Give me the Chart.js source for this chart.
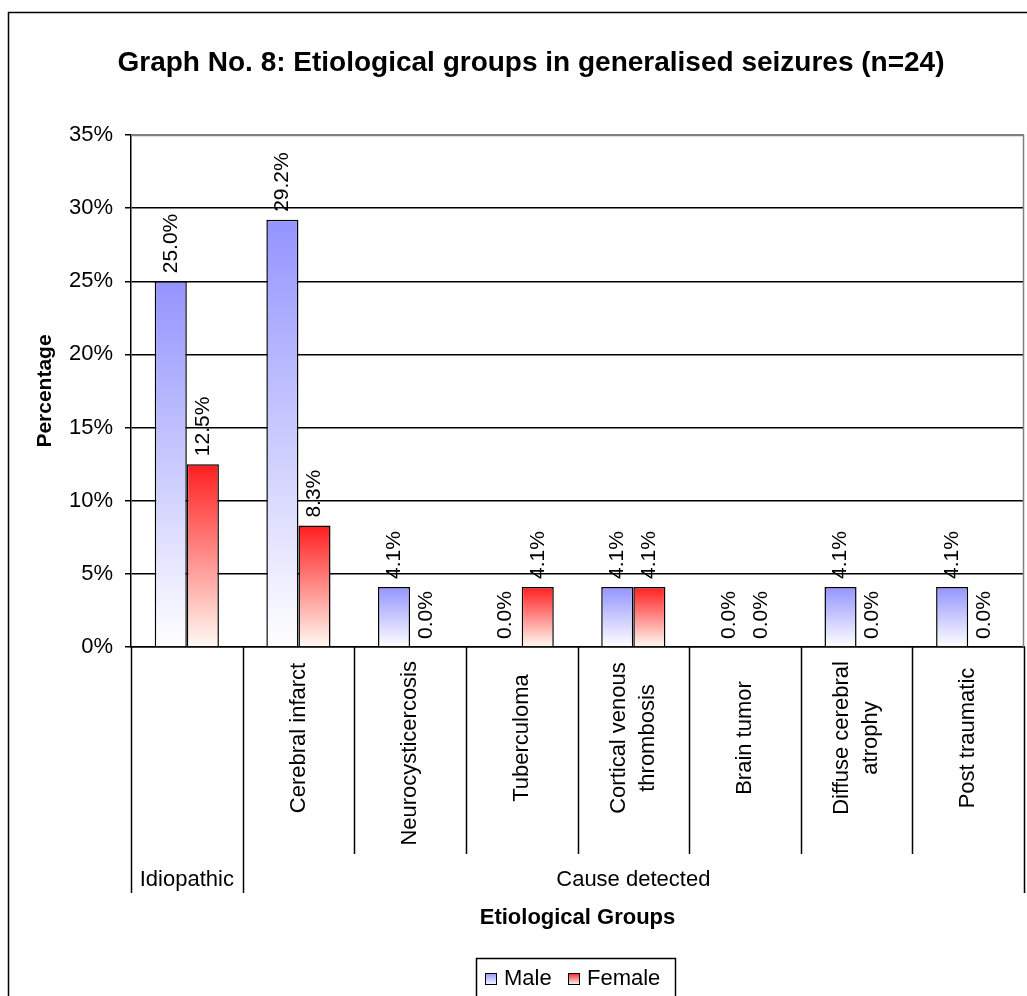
<!DOCTYPE html>
<html>
<head>
<meta charset="utf-8">
<script src="https://cdn.jsdelivr.net/npm/chart.js@4.4.0/dist/chart.umd.min.js"></script>
<style>
  html, body { margin: 0; padding: 0; background: #fff; }
  canvas { display: block; }
</style>
</head>
<body>
<canvas id="chart" width="1027" height="996"></canvas>
<script>
// Etiological groups: each category's label lines (first is the idiopathic group, which has no sub-label)
const categoryLabels = [
  [],
  ['Cerebral infarct'],
  ['Neurocysticercosis'],
  ['Tuberculoma'],
  ['Cortical venous', 'thrombosis'],
  ['Brain tumor'],
  ['Diffuse cerebral', 'atrophy'],
  ['Post traumatic']
];
// Upper-level groups and how many categories each one spans
const groupNames = ['Idiopathic', 'Cause detected'];
const groupSpans = [1, 7];

// Percentages by sex
const maleValues = [25.0, 29.2, 4.1, 0.0, 4.1, 0.0, 4.1, 4.1];
const femaleValues = [12.5, 8.3, 0.0, 4.1, 4.1, 0.0, 0.0, 0.0];

const seriesNames = ['Male', 'Female'];
const yMax = 35;
const yStep = 5;

const FONT = "'Liberation Sans', Arial, sans-serif";

const MALE_TOP = '#9494ff', MALE_BOTTOM = '#ffffff';
const FEMALE_TOP = '#ff1e1e', FEMALE_BOTTOM = '#fffaf3';

function barGradient(context, top, bottom) {
  const chart = context.chart;
  const { ctx, chartArea, scales } = chart;
  if (!chartArea || context.type !== 'data' || !scales.y) return top;
  const v = context.raw;
  const y = scales.y.getPixelForValue(v);
  const y0 = scales.y.getPixelForValue(0);
  if (Math.abs(y0 - y) < 1) return top;
  const g = ctx.createLinearGradient(0, y, 0, y0);
  g.addColorStop(0, top);
  g.addColorStop(1, bottom);
  return g;
}

// Page background, outer frame, titles, category axis labels and legend
const decorations = {
  id: 'decorations',
  beforeDraw(chart) {
    const ctx = chart.ctx;
    ctx.save();
    ctx.fillStyle = '#fff';
    ctx.fillRect(0, 0, chart.width, chart.height);
    ctx.restore();
  },
  afterDraw(chart) {
    const ctx = chart.ctx;
    const area = chart.chartArea;
    const xs = chart.scales.x;
    const n = categoryLabels.length;
    const w = (area.right - area.left) / n;

    ctx.save();
    // outer frame
    ctx.strokeStyle = '#000';
    ctx.lineWidth = 1.5;
    ctx.beginPath();
    ctx.moveTo(8.5, chart.height + 5);
    ctx.lineTo(8.5, 12.5);
    ctx.lineTo(chart.width + 5, 12.5);
    ctx.stroke();

    // plot area border (top and right)
    ctx.strokeStyle = '#808080';
    ctx.lineWidth = 1.5;
    ctx.beginPath();
    ctx.moveTo(area.left, area.top + 0.5);
    ctx.lineTo(area.right - 0.5, area.top + 0.5);
    ctx.lineTo(area.right - 0.5, area.bottom);
    ctx.stroke();

    // title
    ctx.fillStyle = '#000';
    ctx.font = 'bold 28px ' + FONT;
    ctx.textAlign = 'center';
    ctx.textBaseline = 'middle';
    ctx.fillText('Graph No. 8: Etiological groups in generalised seizures (n=24)', 531, 63);

    // y axis title
    ctx.save();
    ctx.translate(45, (area.top + area.bottom) / 2);
    ctx.rotate(-Math.PI / 2);
    ctx.font = 'bold 21px ' + FONT;
    ctx.fillText('Percentage', 0, 0);
    ctx.restore();

    // category dividers: group edges run down through the group row
    const groupEdges = [0];
    groupSpans.reduce((acc, s) => { groupEdges.push(acc + s); return acc + s; }, 0);
    ctx.strokeStyle = '#000';
    ctx.lineWidth = 1.5;
    for (let k = 0; k <= n; k++) {
      const x = Math.round(area.left + k * w) + 0.5;
      const long = groupEdges.includes(k);
      ctx.beginPath();
      ctx.moveTo(x, area.bottom);
      ctx.lineTo(x, long ? 893 : 854);
      ctx.stroke();
    }

    // rotated category labels, centred in their band but kept clear of the axis
    ctx.font = '22px ' + FONT;
    ctx.textAlign = 'center';
    ctx.textBaseline = 'middle';
    categoryLabels.forEach((lines, i) => {
      const cx = xs.getPixelForValue(i);
      const longest = Math.max(0, ...lines.map(l => ctx.measureText(l).width));
      const cy = Math.max(738, area.bottom + 14 + longest / 2);
      lines.forEach((line, li) => {
        ctx.save();
        ctx.translate(cx + (li - (lines.length - 1) / 2) * 29, cy);
        ctx.rotate(-Math.PI / 2);
        ctx.fillText(line, 0, 0);
        ctx.restore();
      });
    });

    // group labels
    let start = 0;
    groupNames.forEach((name, gi) => {
      const x0 = area.left + start * w;
      const x1 = area.left + (start + groupSpans[gi]) * w;
      ctx.fillText(name, (x0 + x1) / 2, 880);
      start += groupSpans[gi];
    });

    // x axis title
    ctx.font = 'bold 22px ' + FONT;
    ctx.fillText('Etiological Groups', (area.left + area.right) / 2, 918);

    // legend
    ctx.strokeStyle = '#000';
    ctx.lineWidth = 1.5;
    ctx.strokeRect(476.5, 958.5, 199, 60);
    const items = [
      { name: seriesNames[0], box: 485, text: 504, top: MALE_TOP, bottom: '#eef4ff' },
      { name: seriesNames[1], box: 568, text: 587, top: FEMALE_TOP, bottom: '#eaf6f4' }
    ];
    ctx.font = '22px ' + FONT;
    ctx.textAlign = 'left';
    items.forEach(it => {
      const g = ctx.createLinearGradient(0, 973, 0, 984);
      g.addColorStop(0, it.top);
      g.addColorStop(1, it.bottom);
      ctx.fillStyle = g;
      ctx.fillRect(it.box, 973, 11, 11);
      ctx.lineWidth = 1;
      ctx.strokeRect(it.box + 0.5, 973.5, 11, 11);
      ctx.fillStyle = '#000';
      ctx.fillText(it.name, it.text, 979);
    });
    ctx.restore();
  }
};

// Rotated value labels above each bar
const valueLabels = {
  id: 'valueLabels',
  afterDatasetsDraw(chart) {
    const ctx = chart.ctx;
    ctx.save();
    ctx.fillStyle = '#000';
    ctx.font = '21px ' + FONT;
    ctx.textAlign = 'left';
    ctx.textBaseline = 'middle';
    chart.data.datasets.forEach((ds, di) => {
      const meta = chart.getDatasetMeta(di);
      meta.data.forEach((bar, i) => {
        ctx.save();
        ctx.translate(bar.x, bar.y - 8);
        ctx.rotate(-Math.PI / 2);
        ctx.fillText(ds.data[i].toFixed(1) + '%', 0, 0);
        ctx.restore();
      });
    });
    ctx.restore();
  }
};

new Chart(document.getElementById('chart'), {
  type: 'bar',
  data: {
    labels: categoryLabels.map((l, i) => l.length ? l.join(' ') : groupNames[0]),
    datasets: [
      {
        label: seriesNames[0],
        data: maleValues,
        backgroundColor: ctx => barGradient(ctx, MALE_TOP, MALE_BOTTOM),
        borderColor: '#000',
        borderWidth: 1.5,
        borderSkipped: 'bottom',
        categoryPercentage: 0.575,
        barPercentage: 1.0
      },
      {
        label: seriesNames[1],
        data: femaleValues,
        backgroundColor: ctx => barGradient(ctx, FEMALE_TOP, FEMALE_BOTTOM),
        borderColor: '#000',
        borderWidth: 1.5,
        borderSkipped: 'bottom',
        categoryPercentage: 0.575,
        barPercentage: 1.0
      }
    ]
  },
  options: {
    responsive: false,
    animation: false,
    devicePixelRatio: 1,
    layout: { padding: { top: 135, right: 3, bottom: 0, left: 0 } },
    plugins: {
      legend: { display: false },
      title: { display: false },
      tooltip: { enabled: false }
    },
    scales: {
      x: {
        ticks: { display: false },
        grid: { display: false, drawTicks: false },
        border: { color: '#000', width: 1.5 },
        afterFit(scale) { scale.height = 996 - 647; }
      },
      y: {
        min: 0,
        max: yMax,
        ticks: {
          stepSize: yStep,
          padding: 12,
          color: '#000',
          font: { family: FONT, size: 22 },
          callback: v => v + '%'
        },
        grid: {
          color: c => (c.tick && c.tick.value === yMax) ? '#808080' : '#000',
          lineWidth: 1.5,
          tickLength: 6,
          tickColor: '#000'
        },
        border: { color: '#000', width: 1.5 },
        afterFit(scale) { scale.width = 131; }
      }
    }
  },
  plugins: [decorations, valueLabels]
});
</script>
</body>
</html>
